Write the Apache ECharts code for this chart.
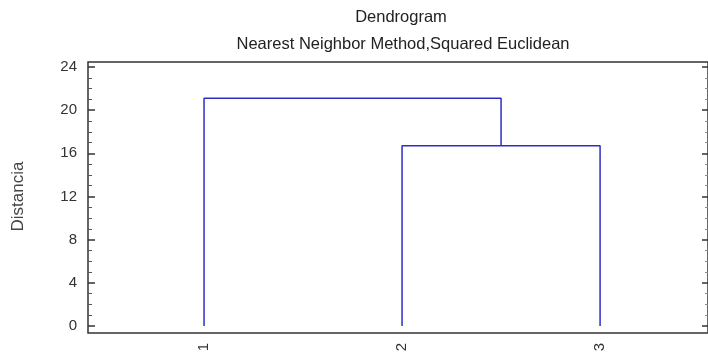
<!DOCTYPE html>
<html>
<head>
<meta charset="utf-8">
<script src="https://cdn.jsdelivr.net/npm/echarts@6/dist/echarts.min.js"></script>
<style>
html,body{margin:0;padding:0;background:#fff;}
#chart{width:708px;height:356px;}
</style>
</head>
<body>
<div id="chart"></div>
<script>
// Data
var leafLabels = ['1', '2', '3'];
var leafPositions = [1, 2, 3];
// merges: each joins two clusters (leaf index 0..n-1, or n+k for merge k)
var mergeLeft = [1, 0];
var mergeRight = [2, 3];
var mergeHeights = [16.7, 21.1];
var yTicks = [0, 4, 8, 12, 16, 20, 24];

var titleText = 'Dendrogram';
var subtitleText = 'Nearest Neighbor Method,Squared Euclidean';
var yAxisName = 'Distancia';

// build dendrogram segments from data
var n = leafPositions.length;
var nodeX = leafPositions.slice();
var nodeH = leafPositions.map(function () { return 0; });
var series = [];
for (var k = 0; k < mergeHeights.length; k++) {
  var a = mergeLeft[k], b = mergeRight[k], h = mergeHeights[k];
  series.push({
    type: 'line',
    xAxisIndex: 1, yAxisIndex: 1,
    data: [[nodeX[a], nodeH[a]], [nodeX[a], h], [nodeX[b], h], [nodeX[b], nodeH[b]]],
    symbol: 'none',
    silent: true,
    animation: false,
    lineStyle: { color: '#2e2ec6', width: 1.5 }
  });
  nodeX.push((nodeX[a] + nodeX[b]) / 2);
  nodeH.push(h);
}

var chart = echarts.init(document.getElementById('chart'));
var txt = '#222';
chart.setOption({
  animation: false,
  backgroundColor: '#fff',
  title: [
    { text: titleText, left: 396, top: 4, textAlign: 'center',
      textStyle: { fontFamily: 'Liberation Sans', fontSize: 16.5, fontWeight: 'normal', color: txt } },
    { text: subtitleText, left: 398, top: 31, textAlign: 'center',
      textStyle: { fontFamily: 'Liberation Sans', fontSize: 16.5, fontWeight: 'normal', color: txt } }
  ],
  grid: [
    { left: 88, right: -3, top: 62, bottom: 23, show: true, borderColor: '#333', borderWidth: 1.5, backgroundColor: 'transparent' },
    { left: 88, right: 0, top: 67, bottom: 30 }
  ],
  xAxis: [
    { gridIndex: 0, type: 'value', show: false, min: 0, max: 1 },
    { gridIndex: 1, type: 'value', min: 0.414, max: 3.545, offset: 7,
      axisLine: { show: false }, axisTick: { show: false }, splitLine: { show: false },
      axisLabel: { customValues: leafPositions, rotate: 90, margin: 10,
        formatter: function (v) { var i = leafPositions.indexOf(v); return i >= 0 ? leafLabels[i] : ''; },
        fontFamily: 'Liberation Sans', fontSize: 15, color: '#333' } }
  ],
  yAxis: [
    { gridIndex: 0, type: 'value', show: false, min: 0, max: 1 },
    { gridIndex: 1, type: 'value', min: 0, max: 24, interval: 4, position: 'left',
      name: yAxisName, nameLocation: 'middle', nameGap: 61, nameRotate: 90,
      nameTextStyle: { fontFamily: 'Liberation Sans', fontSize: 17, color: '#444' },
      axisLine: { show: false },
      axisTick: { show: true, inside: true, length: 7, lineStyle: { color: '#333', width: 1.5 } },
      minorTick: { show: true, splitNumber: 4, length: 4, lineStyle: { color: '#555', width: 1 } },
      splitLine: { show: false },
      axisLabel: { margin: 11, fontFamily: 'Liberation Sans', fontSize: 15, color: '#333' } },
    { gridIndex: 1, type: 'value', min: 0, max: 24, interval: 4, position: 'right',
      axisLine: { show: false },
      axisTick: { show: true, inside: true, length: 6, lineStyle: { color: '#333', width: 1.5 } },
      minorTick: { show: true, splitNumber: 4, length: 3, lineStyle: { color: '#888', width: 1 } },
      splitLine: { show: false },
      axisLabel: { show: false } }
  ],
  series: series
});
</script>
</body>
</html>
